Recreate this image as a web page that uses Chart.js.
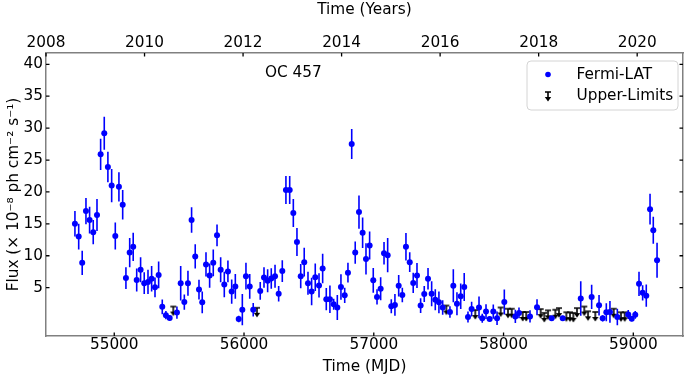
<!DOCTYPE html>
<html>
<head>
<meta charset="utf-8">
<script src="https://cdn.jsdelivr.net/npm/chart.js@4.4.1/dist/chart.umd.min.js"></script>
<style>
  html, body { margin: 0; padding: 0; background: #fff; }
</style>
</head>
<body>
<canvas id="lc" width="691" height="376"></canvas>
<script>
// ---- data ----
const mjd = [54697, 54726, 54753, 54782, 54810, 54838, 54867, 54895, 54923, 54951,
  54980, 55008, 55036, 55065, 55090, 55119, 55146, 55173, 55203, 55231,
  55260, 55288, 55314, 55342, 55370, 55398, 55427, 55483, 55512, 55540,
  55568, 55596, 55624, 55653, 55678, 55707, 55735, 55763, 55792, 55820,
  55848, 55876, 55905, 55933, 55959, 55987, 56015, 56044, 56071, 56125,
  56154, 56182, 56210, 56239, 56267, 56295, 56323, 56352, 56380, 56408,
  56437, 56464, 56493, 56521, 56549, 56578, 56606, 56634, 56662, 56691,
  56719, 56747, 56776, 56801, 56830, 56857, 56886, 56914, 56940, 56968,
  56996, 57025, 57053, 57079, 57107, 57135, 57163, 57192, 57220, 57248,
  57277, 57304, 57333, 57361, 57389, 57418, 57446, 57474, 57502, 57531,
  57587, 57613, 57641, 57670, 57697, 57726, 57754, 57811, 57836, 57865,
  57893, 57921, 57950, 58006, 58091, 58119, 58204, 58258, 58371, 58456,
  58595, 58679, 58736, 58764, 58792, 58820, 58877, 58961, 58988, 59015,
  59044, 59072, 59100, 59129, 59154, 59183];
const flux = [15.0, 13.0, 8.9, 17.0, 15.6, 13.7, 16.4, 25.9, 29.2, 23.9,
  21.0, 13.1, 20.8, 18.0, 6.5, 10.5, 11.4, 6.2, 7.8, 5.7,
  5.9, 6.4, 5.05, 7.0, 2.0, 0.7, 0.25, 1.1, 5.7, 2.75,
  5.7, 15.6, 9.9, 4.7, 2.7, 8.65, 6.9, 8.9, 13.2, 7.8,
  5.5, 7.55, 4.4, 5.2, 0.1, 1.55, 6.8, 5.2, 1.55, 4.5,
  6.6, 6.1, 6.45, 6.8, 4.05, 7.6, 20.3, 20.3, 16.7, 12.15,
  6.8, 9.0, 5.7, 4.4, 6.65, 5.35, 8.0, 3.2, 3.2, 2.4,
  1.9, 5.1, 3.8, 7.35, 27.5, 10.5, 16.85, 13.6, 9.5, 11.6,
  6.15, 3.55, 4.85, 10.4, 10.1, 2.1, 2.3, 5.3, 3.85, 11.4,
  9.0, 5.75, 6.9, 2.2, 4.0, 6.4, 4.05, 3.1, 2.7, 1.9,
  1.2, 5.3, 2.5, 3.65, 5.1, 0.4, 1.65, 1.9, 0.2, 1.25,
  0.1, 1.25, 0.2, 2.75, 0.5, 1.05, 0.5, 1.95, 0.2, 0.2,
  3.3, 3.55, 2.25, 0.2, 1.15, 1.2, 0.4, 0.8, 0.15, 0.75,
  5.6, 4.2, 3.75, 17.3, 14.0, 9.3];
const fluxErr = [2.0, 2.0, 1.9, 2.05, 2.1, 1.9, 2.5, 2.45, 2.6, 2.4,
  2.6, 2.1, 2.3, 2.3, 1.7, 2.3, 2.2, 1.8, 1.95, 1.7,
  1.9, 2.0, 1.55, 2.1, 1.15, 0.65, 0.4, 0.95, 2.7, 1.2,
  1.95, 2.0, 1.9, 1.55, 1.7, 1.9, 1.9, 2.1, 1.7, 1.95,
  2.0, 1.7, 1.9, 1.95, 0.5, 2.45, 2.1, 1.95, 1.05, 1.4,
  1.6, 1.8, 1.6, 1.8, 1.2, 1.7, 2.2, 2.2, 2.2, 2.2,
  1.9, 2.25, 1.8, 2.15, 2.15, 1.9, 2.3, 1.75, 2.15, 0.85,
  1.95, 2.0, 1.2, 1.55, 2.35, 1.75, 2.6, 2.4, 2.45, 2.2,
  1.95, 1.2, 1.8, 1.75, 2.7, 1.1, 1.7, 1.7, 1.15, 2.15,
  1.55, 1.6, 1.95, 1.15, 1.25, 1.7, 1.95, 1.65, 1.7, 1.15,
  0.9, 2.6, 1.8, 2.0, 2.2, 0.85, 1.15, 1.7, 0.7, 1.15,
  0.4, 1.1, 1.05, 1.95, 1.05, 0.85, 0.95, 1.25, 0.4, 0.4,
  2.7, 1.9, 1.6, 0.5, 1.4, 1.7, 1.3, 0.7, 0.4, 0.6,
  1.9, 1.2, 1.75, 2.4, 2.1, 2.75];

const ulMjd = [55455, 56100, 57559, 57782, 57978, 58034, 58063, 58148, 58175, 58286,
  58314, 58343, 58399, 58427, 58484, 58512, 58538, 58566, 58622, 58651,
  58707, 58849, 58905, 58934];
const ulFlux = [2.05, 1.85, 2.2, 1.5, 1.9, 1.7, 1.7, 1.2, 1.2, 1.65,
  1.05, 1.45, 1.55, 1.8, 1.15, 1.15, 1.05, 1.8, 2.05, 1.3,
  1.2, 1.7, 1.15, 1.15];

const mjdTicks = [55000, 56000, 57000, 58000, 59000];
const yearTicks = [2008, 2010, 2012, 2014, 2016, 2018, 2020];
const fluxTicks = [5, 10, 15, 20, 25, 30, 35, 40];

const FONT = "'DejaVu Sans', sans-serif";
Chart.defaults.font.family = FONT;
Chart.defaults.font.size = 15.3;
Chart.defaults.color = '#000';

// upper-limit glyph: bar at the value, arrow pointing down
function drawUL(g, cx, top) {
  g.save();
  g.strokeStyle = '#000';
  g.fillStyle = '#000';
  g.lineWidth = 1.6;
  g.beginPath();
  g.moveTo(cx - 3, top); g.lineTo(cx + 3, top);
  g.moveTo(cx, top); g.lineTo(cx, top + 6);
  g.stroke();
  g.beginPath();
  g.moveTo(cx - 3.2, top + 5); g.lineTo(cx + 3.2, top + 5); g.lineTo(cx, top + 9.5);
  g.closePath();
  g.fill();
  g.restore();
}
const ulGlyph = document.createElement('canvas');
ulGlyph.width = 10; ulGlyph.height = 22;
drawUL(ulGlyph.getContext('2d'), 5, 11);

const errorBars = {
  id: 'errorBars',
  beforeDatasetsDraw(chart) {
    const {ctx, chartArea: a, scales: {x, y}} = chart;
    ctx.save();
    ctx.beginPath(); ctx.rect(a.left, a.top, a.right - a.left, a.bottom - a.top); ctx.clip();
    ctx.strokeStyle = '#0000ff';
    ctx.lineWidth = 1.6;
    ctx.beginPath();
    mjd.forEach((m, i) => {
      const px = x.getPixelForValue(m);
      ctx.moveTo(px, y.getPixelForValue(flux[i] - fluxErr[i]));
      ctx.lineTo(px, y.getPixelForValue(flux[i] + fluxErr[i]));
    });
    ctx.stroke();
    ctx.restore();
  }
};

const inwardTicks = {
  id: 'inwardTicks',
  afterDraw(chart) {
    const {ctx, chartArea: a, scales} = chart;
    const len = 3.5;
    ctx.save();
    ctx.strokeStyle = '#000';
    ctx.lineWidth = 1.3;
    ctx.beginPath();
    scales.x.ticks.forEach(t => { const p = scales.x.getPixelForValue(t.value); ctx.moveTo(p, a.bottom); ctx.lineTo(p, a.bottom - len); });
    scales.x2.ticks.forEach(t => { const p = scales.x2.getPixelForValue(t.value); ctx.moveTo(p, a.top); ctx.lineTo(p, a.top + len); });
    scales.y.ticks.forEach(t => { const p = scales.y.getPixelForValue(t.value); ctx.moveTo(a.left, p); ctx.lineTo(a.left + len, p); });
    scales.y2.ticks.forEach(t => { const p = scales.y2.getPixelForValue(t.value); ctx.moveTo(a.right, p); ctx.lineTo(a.right - len, p); });
    ctx.stroke();
    ctx.restore();
  }
};

const legendBox = {
  id: 'legendBox',
  afterDraw(chart) {
    const {ctx, chartArea: a} = chart;
    const w = 151, h = 49;
    const bx = a.right - 5 - w, by = a.top + 8;
    ctx.save();
    ctx.beginPath();
    ctx.roundRect(bx, by, w, h, 4);
    ctx.fillStyle = 'rgba(255,255,255,0.8)';
    ctx.fill();
    ctx.strokeStyle = '#d4d4d4';
    ctx.lineWidth = 1;
    ctx.stroke();
    const ds = chart.data.datasets;
    ctx.fillStyle = '#0000ff';
    ctx.beginPath();
    ctx.arc(bx + 21, by + 13.5, 2.8, 0, Math.PI * 2);
    ctx.fill();
    drawUL(ctx, bx + 21, by + 31);
    ctx.fillStyle = '#000';
    ctx.font = '15.3px ' + FONT;
    ctx.textBaseline = 'middle';
    ctx.fillText(ds[0].label, bx + 49.5, by + 14);
    ctx.fillText(ds[1].label, bx + 49.5, by + 35.5);
    // source name
    ctx.fillText('OC 457', a.left + 219, a.top + 20);
    ctx.restore();
  }
};

new Chart(document.getElementById('lc'), {
  type: 'scatter',
  data: {
    datasets: [
      {
        label: 'Fermi-LAT',
        data: mjd.map((m, i) => ({x: m, y: flux[i]})),
        backgroundColor: '#0000ff',
        borderWidth: 0,
        pointRadius: 3
      },
      {
        label: 'Upper-Limits',
        data: ulMjd.map((m, i) => ({x: m, y: ulFlux[i]})),
        pointStyle: ulGlyph,
        pointRadius: 5
      }
    ]
  },
  options: {
    responsive: false,
    animation: false,
    events: [],
    layout: { padding: { left: 0, right: 8, top: 0, bottom: 0 } },
    plugins: { legend: { display: false }, tooltip: { enabled: false } },
    scales: {
      x: {
        type: 'linear', position: 'bottom',
        min: 54474, max: 59383,
        afterBuildTicks: s => { s.ticks = mjdTicks.map(v => ({value: v})); },
        afterFit: s => { s.height = 40; },
        grid: { display: false, drawTicks: false },
        border: { color: '#808080', width: 1.5 },
        ticks: { padding: 0, maxRotation: 0, autoSkip: false, callback: v => String(v) },
        title: { display: true, text: 'Time (MJD)', padding: { top: 0, bottom: 0 } }
      },
      x2: {
        type: 'linear', position: 'top',
        min: 2008, max: 2020.93,
        afterBuildTicks: s => { s.ticks = yearTicks.map(v => ({value: v})); },
        afterFit: s => { s.height = 53; },
        grid: { display: false, drawTicks: false },
        border: { color: '#808080', width: 1.5 },
        ticks: { padding: 1, maxRotation: 0, autoSkip: false, callback: v => String(v) },
        title: { display: true, text: 'Time (Years)', padding: { top: 1, bottom: 0 } }
      },
      y: {
        type: 'linear', position: 'left',
        min: -2.57, max: 41.77,
        afterBuildTicks: s => { s.ticks = fluxTicks.map(v => ({value: v})); },
        afterFit: s => { s.width = 46; },
        grid: { display: false, drawTicks: false },
        border: { color: '#808080', width: 1.5 },
        ticks: { padding: 3, callback: v => String(v) },
        title: { display: true, text: 'Flux (× 10⁻⁸ ph cm⁻² s⁻¹)', padding: { top: 5, bottom: 0 } }
      },
      y2: {
        type: 'linear', position: 'right',
        min: -2.57, max: 41.77,
        afterBuildTicks: s => { s.ticks = fluxTicks.map(v => ({value: v})); },
        afterFit: s => { s.width = 0; },
        grid: { display: false, drawTicks: false },
        border: { color: '#808080', width: 1.5 },
        ticks: { display: false }
      }
    }
  },
  plugins: [errorBars, inwardTicks, legendBox]
});
</script>
</body>
</html>
